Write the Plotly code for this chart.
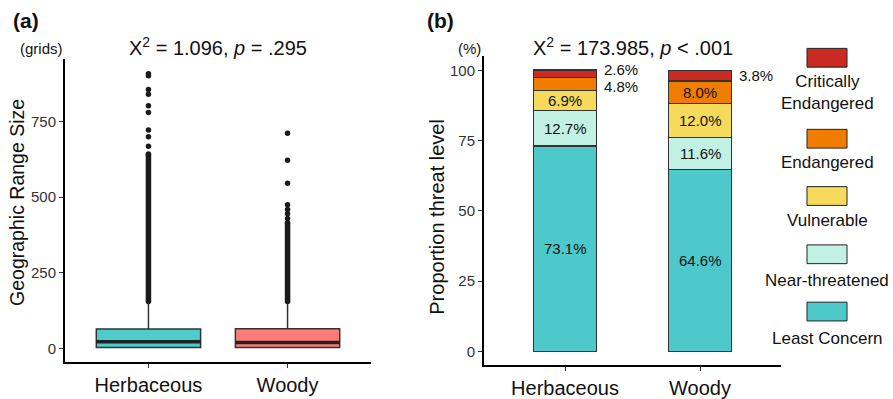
import plotly.graph_objects as go

# ---------------- data ----------------
growth_forms = ["Herbaceous", "Woody"]

# panel (a): boxplot statistics of geographic range size (grids)
box_q1 = [4, 4]
box_median = [23, 20]
box_q3 = [65, 66]
box_lowerfence = [1, 1]
box_upperfence = [152, 152]
herb_outliers = [908, 901, 856, 840, 802, 780, 722, 700, 668]
herb_dense_outlier_range = [156, 643]
woody_outliers = [711, 622, 546, 475, 459, 445, 430]
woody_dense_outlier_range = [156, 416]
box_colors = ["#4ECBCB", "#FF7D78"]

# panel (b): proportion threat level (%)
threat_levels = ["Least Concern", "Near-threatened", "Vulnerable", "Endangered", "Critically Endangered"]
legend_labels = ["Least Concern", "Near-threatened", "Vulnerable", "Endangered", "Critically<br>Endangered"]
herb_pct = [73.1, 12.7, 6.9, 4.8, 2.6]
woody_pct = [64.6, 11.6, 12.0, 8.0, 3.8]
threat_colors = ["#4EC9CB", "#C0F1E3", "#F6DA5C", "#F07C00", "#CB2A20"]

y_ticks_a = [0, 250, 500, 750]
y_ticks_b = [0, 25, 50, 75, 100]
title_a = "X<sup>2</sup> = 1.096, <i>p</i> = .295"
title_b = "X<sup>2</sup> = 173.985, <i>p</i> < .001"

# ---------------- layout helpers ----------------
W, H = 893, 399
FONT = "Liberation Sans, Arial, sans-serif"


def px(x):
    return x / W


def py(y):
    return 1 - y / H


fig = go.Figure()
positions = [1, 2]
box_width = 0.75
bar_width = 0.47

# ---------------- panel (a) ----------------
for i, name in enumerate(growth_forms):
    fig.add_trace(go.Box(
        x=[positions[i]], q1=[box_q1[i]], median=[box_median[i]], q3=[box_q3[i]],
        lowerfence=[box_lowerfence[i]], upperfence=[box_upperfence[i]],
        width=box_width, whiskerwidth=0, fillcolor=box_colors[i],
        line=dict(color="#333333", width=1.5), boxpoints=False,
        xaxis="x", yaxis="y", showlegend=False, hoverinfo="skip"))
    fig.add_trace(go.Scatter(
        x=[positions[i] - box_width / 2, positions[i] + box_width / 2],
        y=[box_median[i], box_median[i]], mode="lines",
        line=dict(color="#222222", width=3.5), xaxis="x", yaxis="y",
        showlegend=False, hoverinfo="skip"))

for pos, sparse, dense in [(1, herb_outliers, herb_dense_outlier_range),
                           (2, woody_outliers, woody_dense_outlier_range)]:
    fig.add_trace(go.Scatter(
        x=[pos] * len(sparse), y=sparse, mode="markers",
        marker=dict(color="#1a1a1a", size=5.5), xaxis="x", yaxis="y",
        showlegend=False, hoverinfo="skip"))
    fig.add_trace(go.Scatter(
        x=[pos, pos], y=dense, mode="lines+markers",
        line=dict(color="#1a1a1a", width=5.5), marker=dict(color="#1a1a1a", size=5.5),
        xaxis="x", yaxis="y", showlegend=False, hoverinfo="skip"))

# ---------------- panel (b) ----------------
for i, lvl in enumerate(threat_levels):
    fig.add_trace(go.Bar(
        x=positions, y=[herb_pct[i], woody_pct[i]], width=bar_width,
        marker=dict(color=threat_colors[i], line=dict(color="#333333", width=1.2)),
        name=lvl, xaxis="x2", yaxis="y2", showlegend=False, hoverinfo="skip"))

annotations = []
for j, vals in enumerate([herb_pct, woody_pct]):
    base = 0
    for i, v in enumerate(vals):
        center = base + v / 2
        label = f"{v:.1f}%"
        if v >= 5:
            annotations.append(dict(x=positions[j], y=center, xref="x2", yref="y2",
                                    text=label, showarrow=False,
                                    font=dict(family=FONT, size=15, color="#111")))
        else:
            # small segments labelled outside, nudged apart like repel
            shift = 4 if i == len(vals) - 1 and j == 0 else (-2 if j == 0 else 0)
            annotations.append(dict(x=positions[j] + bar_width / 2, y=center, xref="x2", yref="y2",
                                    text=label, showarrow=False, xanchor="left", xshift=5,
                                    yshift=shift,
                                    font=dict(family=FONT, size=15, color="#111")))
        base += v

# ---------------- legend (manual, text below keys) ----------------
legend_key_tops = [306, 248, 189, 131, 49]
legend_text_centers = [343, 284, 223, 165, 93.5]
shapes = []
for i in range(len(threat_levels)):
    top = legend_key_tops[i]
    shapes.append(dict(type="rect", xref="paper", yref="paper",
                       x0=px(807), x1=px(847), y0=py(top + 19), y1=py(top),
                       fillcolor=threat_colors[i], line=dict(color="#222222", width=1)))
    annotations.append(dict(x=px(827), y=py(legend_text_centers[i]), xref="paper", yref="paper",
                            text=legend_labels[i], showarrow=False, xanchor="center", yanchor="middle",
                            font=dict(family=FONT, size=17, color="#111")))

# ---------------- text annotations ----------------
def ann(x, y, text, size, **kw):
    d = dict(x=px(x), y=py(y), xref="paper", yref="paper", text=text, showarrow=False,
             xanchor="center", yanchor="middle", font=dict(family=FONT, size=size, color="#111"))
    d.update(kw)
    return d


annotations += [
    ann(26, 21, "<b>(a)</b>", 21),
    ann(440, 21, "<b>(b)</b>", 21),
    ann(41.5, 49, "(grids)", 15),
    ann(469.5, 49, "(%)", 15),
    ann(218, 47, title_a, 20),
    ann(633, 47, title_b, 20),
    ann(17.5, 205, "Geographic Range Size", 19.5, textangle=-90),
    ann(437.5, 220, "Proportion threat level", 20, textangle=-90),
]

axis_common = dict(showgrid=False, zeroline=False, showline=True, linecolor="black", linewidth=2,
                   ticks="outside", ticklen=4, tickcolor="#333333", tickwidth=1)

fig.update_layout(
    width=W, height=H, margin=dict(l=0, r=0, t=0, b=0),
    paper_bgcolor="white", plot_bgcolor="white", barmode="stack",
    xaxis=dict(domain=[px(65), px(371)], range=[0.4, 2.6], tickvals=positions, ticktext=growth_forms,
               tickfont=dict(family=FONT, size=20, color="#111"), anchor="y", **axis_common),
    yaxis=dict(domain=[py(367), py(60)], range=[-45.5, 955.5], tickvals=y_ticks_a,
               tickfont=dict(family=FONT, size=15, color="#333"), anchor="x", **axis_common),
    xaxis2=dict(domain=[px(484), px(781)], range=[0.4, 2.6], tickvals=positions, ticktext=growth_forms,
                tickfont=dict(family=FONT, size=20, color="#111"), anchor="y2", **axis_common),
    yaxis2=dict(domain=[py(370), py(57)], range=[-5, 105], tickvals=y_ticks_b,
                tickfont=dict(family=FONT, size=15, color="#333"), anchor="x2", **axis_common),
    annotations=annotations, shapes=shapes, showlegend=False,
)

fig.write_html(
    "out.html",
    config={"displayModeBar": False, "staticPlot": True},
    post_script=(
        "var h=document.documentElement, b=document.body;"
        "h.style.margin='0';h.style.padding='0';h.style.overflow='hidden';h.style.height='399px';"
        "b.style.margin='0';b.style.padding='0';b.style.overflow='hidden';b.style.height='399px';"
    ),
)
